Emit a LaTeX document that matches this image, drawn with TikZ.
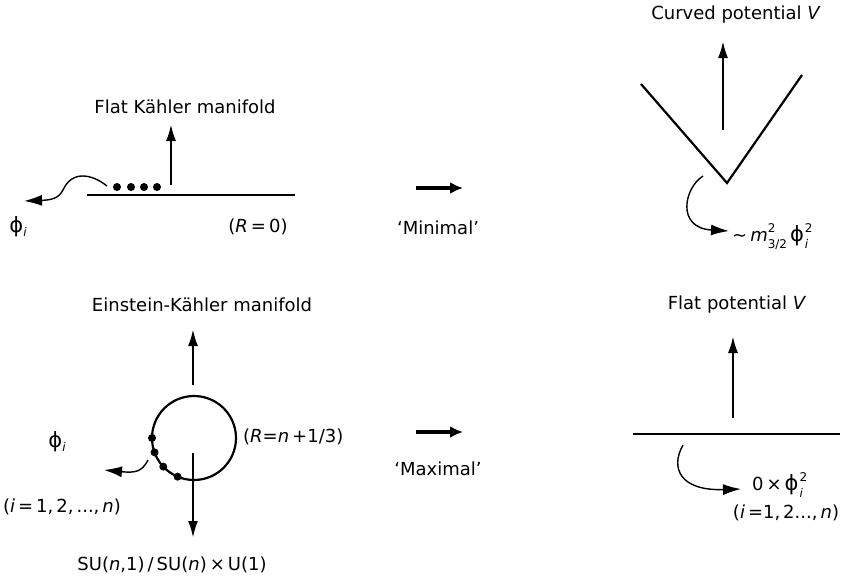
\documentclass[tikz,border=0pt]{standalone}
\usepackage{fontspec}
\setmainfont{DejaVu Sans}
\usetikzlibrary{arrows.meta,calc}
\newcommand\lowidx[1]{\raisebox{-0.4ex}{\fontsize{12}{12}\selectfont #1}}
\newcommand\PhiSym{{\fontsize{21}{21}\selectfont ϕ}}
\newcommand\SupSub[2]{{\setlength\tabcolsep{0pt}\renewcommand\arraystretch{0.75}%
  \begin{tabular}[c]{@{}l@{}}\fontsize{12}{12}\selectfont #1\\\fontsize{12}{12}\selectfont #2\end{tabular}}}
\begin{document}
\begin{tikzpicture}[x=1pt,y=-1pt,
  lbl/.style={font=\fontsize{18}{21}\selectfont, inner sep=0pt},
  thinarrow/.style={line width=1.1pt, -{Latex[length=16pt,width=10pt]}},
  bigarrow/.style={line width=4.5pt, -{Latex[length=13pt,width=12pt]}},
  curvearrow/.style={line width=1.4pt, -{Latex[length=18pt,width=11pt]}},
  thickline/.style={line width=2.2pt},
  pt/.style={circle, fill, inner sep=0pt, minimum size=8pt}]
\useasboundingbox (0,0) rectangle (841,581);

% ---------- top left: flat Kahler manifold ----------
\node[lbl] (flatK) at (185,107) {Flat Kähler manifold};
\coordinate (l1a) at (87,195);
\coordinate (l1b) at (295,195);
\draw[thickline] (l1a) -- (l1b);
\coordinate (up1s) at (171,185);
\coordinate (up1t) at (171,125);
\draw[thinarrow] (up1s) -- (up1t);
\node[pt] (d1) at (117,187) {};
\node[pt] (d2) at (131,187) {};
\node[pt] (d3) at (144,187) {};
\node[pt] (d4) at (157,187) {};
\coordinate (c1s) at (107,186);
\coordinate (c1t) at (24,201);
\draw[curvearrow] (c1s) .. controls (92,174) and (72,170) .. (63,190)
   .. controls (59,198) and (52,200) .. (c1t);
\node[lbl] (phi1) at (18,227) {\PhiSym\lowidx{\textit{i}}};
\node[lbl] (r0) at (258,227) {(\textit{R}\,=\,0)};

% ---------- middle ----------
\coordinate (m1s) at (416,188);
\coordinate (m1t) at (463,188);
\draw[bigarrow] (m1s) -- (m1t);
\node[lbl] (minimal) at (438,228) {`Minimal'};
\coordinate (m2s) at (416,432);
\coordinate (m2t) at (463,432);
\draw[bigarrow] (m2s) -- (m2t);
\node[lbl] (maximal) at (438,469) {`Maximal'};

% ---------- top right: curved potential ----------
\node[lbl] (curvedV) at (736,15) {Curved potential \textit{V}};
\coordinate (up2s) at (723,130);
\coordinate (up2t) at (723,42);
\draw[thinarrow] (up2s) -- (up2t);
\coordinate (va) at (641,84);
\coordinate (vb) at (727,183);
\coordinate (vc) at (802,75);
\draw[thickline] (va) -- (vb) -- (vc);
\coordinate (c2s) at (703,176);
\coordinate (c2t) at (729,231);
\draw[curvearrow] (c2s) .. controls (684,188) and (676,228) .. (c2t);
\node[lbl, anchor=west] (mass) at (732,237) {∼\,\textit{m}\SupSub{2}{3/2}\,\PhiSym\kern1pt\SupSub{2}{\textit{i}}};

% ---------- bottom left: Einstein-Kahler manifold ----------
\node[lbl] (einK) at (202,305) {Einstein-Kähler manifold};
\coordinate (cc) at (194,438);
\draw[thickline] (cc) circle[radius=42];
\coordinate (up3s) at (193,385);
\coordinate (up3t) at (193,330);
\draw[thinarrow] (up3s) -- (up3t);
\coordinate (dn3s) at (193,453);
\coordinate (dn3t) at (193,537);
\draw[thinarrow] (dn3s) -- (dn3t);
\node[pt] (e1) at ($(cc)+(180:42)$) {};
\node[pt] (e2) at ($(cc)+(160:42)$) {};
\node[pt] (e3) at ($(cc)+(137:42)$) {};
\node[pt] (e4) at ($(cc)+(113:42)$) {};
\coordinate (c3s) at (148,460);
\coordinate (c3t) at (104,470);
\draw[curvearrow] (c3s) .. controls (142,472) and (135,473) .. (c3t);
\node[lbl] (phi3) at (57,442) {\PhiSym\lowidx{\textit{i}}};
\node[lbl] (ilist) at (62,507) {(\textit{i}\,=\,1,\,2,\,...,\,\textit{n})};
\node[lbl, anchor=west] (rn) at (243,437) {(\textit{R}=\textit{n}\,+1/3)};
\node[lbl] (su) at (172,565) {SU(\textit{n},1)\,/\,SU(\textit{n})\,×\,U(1)};

% ---------- bottom right: flat potential ----------
\node[lbl] (flatV) at (737,305) {Flat potential \textit{V}};
\coordinate (up4s) at (733,418);
\coordinate (up4t) at (733,337);
\draw[thinarrow] (up4s) -- (up4t);
\coordinate (l4a) at (633,434);
\coordinate (l4b) at (840,434);
\draw[thickline] (l4a) -- (l4b);
\coordinate (c4s) at (683,445);
\coordinate (c4t) at (741,489);
\draw[curvearrow] (c4s) .. controls (670,468) and (680,491) .. (c4t);
\node[lbl, anchor=west] (zero) at (752,486) {0\,×\,\PhiSym\kern1pt\SupSub{2}{\textit{i}}};
\node[lbl] (ilist2) at (786,513) {(\textit{i}\,=1,\,2...,\,\textit{n})};
\end{tikzpicture}
\end{document}
